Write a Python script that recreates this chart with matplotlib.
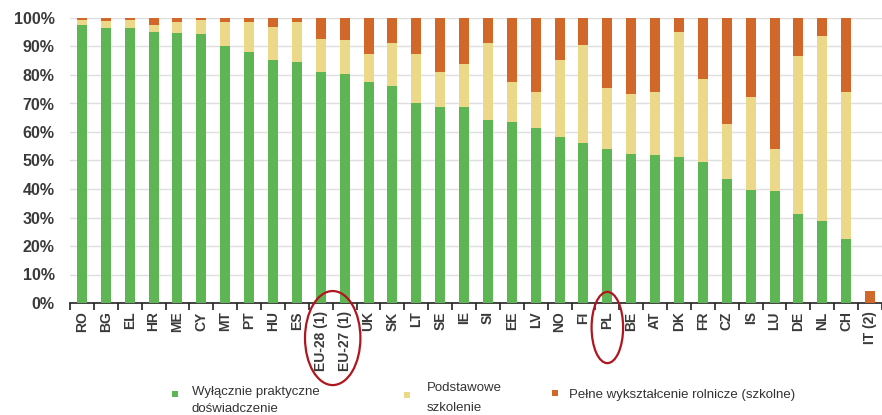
import matplotlib
matplotlib.use("Agg")
import matplotlib.pyplot as plt
import numpy as np
from matplotlib.patches import Ellipse, Rectangle
from matplotlib.transforms import blended_transform_factory

plt.rcParams['font.family'] = ['Liberation Sans', 'DejaVu Sans']

countries = ["RO", "BG", "EL", "HR", "ME", "CY", "MT", "PT", "HU", "ES",
             "EU-28 (1)", "EU-27 (1)", "UK", "SK", "LT", "SE", "IE", "SI", "EE", "LV",
             "NO", "FI", "PL", "BE", "AT", "DK", "FR", "CZ", "IS", "LU",
             "DE", "NL", "CH", "IT (2)"]

# share of farm managers by training level (%)
practical = [97.7, 96.5, 96.4, 95.1, 94.6, 94.4, 90.0, 88.0, 85.3, 84.7,
             81.2, 80.4, 77.4, 76.2, 70.1, 68.9, 68.9, 64.2, 63.5, 61.3,
             58.4, 56.0, 54.0, 52.3, 51.9, 51.3, 49.6, 43.4, 39.6, 39.4,
             31.4, 28.8, 22.3, 0.0]
basic = [1.5, 2.3, 2.8, 2.6, 3.9, 5.0, 8.5, 10.5, 11.4, 13.9,
         11.4, 12.0, 10.1, 15.0, 17.4, 12.3, 15.0, 27.0, 13.9, 12.6,
         26.7, 34.6, 21.4, 21.1, 22.3, 43.7, 28.9, 19.4, 32.6, 14.5,
         55.4, 64.8, 51.6, 0.0]
full = [0.8, 1.2, 0.8, 2.3, 1.5, 0.6, 1.5, 1.5, 3.3, 1.4,
        7.4, 7.6, 12.5, 8.8, 12.5, 18.8, 16.1, 8.8, 22.6, 26.1,
        14.9, 9.4, 24.6, 26.6, 25.8, 5.0, 21.5, 37.2, 27.8, 46.1,
        13.2, 6.4, 26.1, 4.1]

legend_labels = ["Wyłącznie praktyczne\ndoświadczenie",
                 "Podstawowe\nszkolenie",
                 "Pełne wykształcenie rolnicze (szkolne)"]
colors = ["#5DB553", "#EBD889", "#D2672A"]
highlighted = [["EU-28 (1)", "EU-27 (1)"], ["PL"]]

fig = plt.figure(figsize=(8.82, 4.15), dpi=100)
ax = fig.add_axes([70 / 882, 1 - 303 / 415, 812 / 882, 285 / 415])

x = np.arange(len(countries))
practical = np.array(practical)
basic = np.array(basic)
full = np.array(full)
w = 0.42
ax.bar(x, practical, w, color=colors[0], zorder=3)
ax.bar(x, basic, w, bottom=practical, color=colors[1], zorder=3)
ax.bar(x, full, w, bottom=practical + basic, color=colors[2], zorder=3)

ax.set_xlim(-0.5, len(countries) - 0.5)
ax.set_ylim(0, 100)
ax.set_yticks(np.arange(0, 101, 10))
ax.set_yticklabels([f"{v}%" for v in range(0, 101, 10)], fontsize=11.5,
                   fontweight="bold", color="#3a3a3a")
ax.yaxis.grid(True, color="#dedede", linewidth=1.0, zorder=0)
ax.tick_params(axis="y", length=0, pad=11)

ax.set_xticks(x)
ax.set_xticklabels(countries, rotation=90, fontsize=10, fontweight="bold", color="#3a3a3a")
ax.set_xticks(np.arange(-0.5, len(countries), 1), minor=True)
ax.tick_params(axis="x", which="major", length=0, pad=6)
ax.tick_params(axis="x", which="minor", length=5, width=1.2, color="#222222", direction="out")

for s in ["top", "right", "left"]:
    ax.spines[s].set_visible(False)
ax.spines["bottom"].set_color("#222222")
ax.spines["bottom"].set_linewidth(1.2)

# red ellipses around highlighted labels
bt = blended_transform_factory(ax.transData, ax.transAxes)
for group, (yc, h, wpad) in zip(highlighted, [(-0.123, 0.330, 0.66), (-0.086, 0.250, 0.66)]):
    idx = [countries.index(c) for c in group]
    xc = np.mean(idx)
    width = (max(idx) - min(idx)) + 2 * wpad
    e = Ellipse((xc, yc), width, h, transform=bt, fill=False,
                edgecolor="#B0161E", linewidth=1.6, clip_on=False, zorder=5)
    ax.add_artist(e)

# legend
leg_items = [(175, 394, 192, 393, "top", 1.5), (407, 395, 427, 398, "center", 1.9),
             (555, 393, 569, 395, "center", 1.6)]
for (sx, sy, tx, ty, mode, ls), lab, col in zip(leg_items, legend_labels, colors):
    fig.patches.append(Rectangle(((sx - 3) / 882, 1 - (sy + 3) / 415), 6 / 882, 6 / 415,
                                 transform=fig.transFigure, facecolor=col, edgecolor="none"))
    if mode == "top":
        fig.text(tx / 882, 1 - (ty - 7) / 415, lab, fontsize=9.5, color="#333333",
                 va="top", ha="left", linespacing=ls)
    else:
        fig.text(tx / 882, 1 - ty / 415, lab, fontsize=9.5, color="#333333",
                 va="center", ha="left", linespacing=ls)

fig.savefig("out.png", dpi=100)
